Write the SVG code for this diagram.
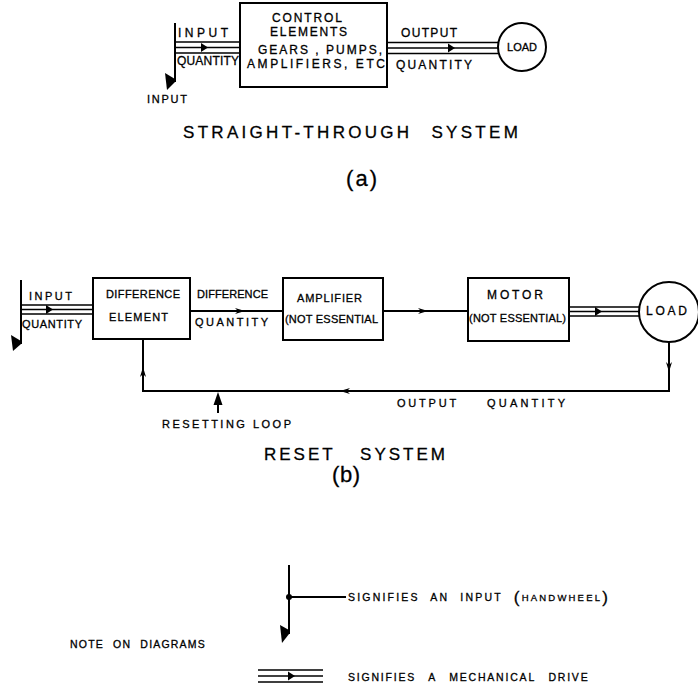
<svg xmlns="http://www.w3.org/2000/svg" width="698" height="691" viewBox="0 0 698 691">
<defs>
<style>
.ln{fill:none;stroke:#000;stroke-width:2}
.dl{fill:none;stroke:#000;stroke-width:1.6}
.box{fill:#fff;stroke:#000;stroke-width:2}
.blk{fill:#000;stroke:none}
text{font-family:"Liberation Sans",Arial,sans-serif;fill:#000;stroke:#000;stroke-width:0.3px}
.s11{font-size:11px}
.s12{font-size:12px}
.title{font-size:17px;letter-spacing:3.3px;word-spacing:11px}
.sub{font-size:22px}
.lg{font-size:10.5px}
</style>
<marker id="ah" markerUnits="userSpaceOnUse" viewBox="0 0 11 7" markerWidth="11" markerHeight="7" refX="10" refY="3.5" orient="auto"><path d="M0,0.5 L10,3.5 L0,6.5 L3,3.5z" fill="#000"/></marker>
<marker id="dr" markerUnits="userSpaceOnUse" viewBox="0 0 8 10" markerWidth="8" markerHeight="10" refX="7" refY="5" orient="auto"><path d="M0,0.5 L7,5 L0,9.5z" fill="#000"/></marker>
</defs>
<rect width="698" height="691" fill="#fff"/>

<g id="connectors">
  <!-- (a) input handwheel and drive -->
  <path class="ln" d="M175,23 V82"/>
  <polygon class="blk" points="165,73 175,79 175,82 167,90"/>
  <path class="dl" d="M175,42 H240 M175,53 H240"/>
  <path class="dl" d="M175,47.5 L208,47.5 L240,47.5" marker-mid="url(#dr)"/>
  <!-- (a) output drive -->
  <path class="dl" d="M387,42.5 H499 M387,53.5 H499"/>
  <path class="dl" d="M387,48 L455,48 L498,48" marker-mid="url(#dr)"/>
  <!-- (b) input handwheel and drive -->
  <path class="ln" d="M21,280 V344"/>
  <polygon class="blk" points="11,335 21,341 21,344 13,351"/>
  <path class="dl" d="M21,305 H93 M21,314 H93"/>
  <path class="dl" d="M21,309.5 L53,309.5 L93,309.5" marker-mid="url(#dr)"/>
  <!-- difference -> amplifier -->
  <path class="ln" d="M190,311 L245,311 L283,311" marker-mid="url(#ah)"/>
  <!-- amplifier -> motor -->
  <path class="ln" d="M383,311 L428,311 L468,311" marker-mid="url(#ah)"/>
  <!-- motor -> load drive -->
  <path class="dl" d="M569,307 H641 M569,316 H641"/>
  <path class="dl" d="M569,311.5 L602,311.5 L640,311.5" marker-mid="url(#dr)"/>
  <!-- resetting loop -->
  <path class="ln" d="M669,342 V372" marker-end="url(#ah)"/>
  <path class="ln" d="M669,372 V391 H340" marker-end="url(#ah)"/>
  <path class="ln" d="M340,391 H143 V367" marker-end="url(#ah)"/>
  <path class="ln" d="M143,367 V340"/>
  <!-- resetting loop pointer -->
  <path class="ln" d="M218,413 V402"/>
  <polygon class="blk" points="218,392 222.5,405 213.5,405"/>
  <!-- legend symbols -->
  <path class="ln" d="M289,565 V634"/>
  <polygon class="blk" points="280,625 289,630 289,634 282,643"/>
  <circle class="blk" cx="289" cy="597" r="3"/>
  <path class="ln" d="M289,597 H346"/>
  <path class="dl" d="M258,670 H323 M258,682 H323"/>
  <path class="dl" d="M258,676 L295,676 L323,676" marker-mid="url(#dr)"/>
</g>

<g id="labels">
  <text class="s12" x="178" y="37" textLength="50" lengthAdjust="spacing">INPUT</text>
  <text class="s12" x="177" y="65" textLength="62" lengthAdjust="spacing">QUANTITY</text>
  <text class="s11" x="147" y="103" textLength="40" lengthAdjust="spacing">INPUT</text>
  <text class="s12" x="401" y="37" textLength="56" lengthAdjust="spacing">OUTPUT</text>
  <text class="s12" x="396" y="69" textLength="76" lengthAdjust="spacing">QUANTITY</text>
  <text class="title" x="183" y="138">STRAIGHT-THROUGH SYSTEM</text>
  <text class="sub" x="346" y="186" textLength="31" lengthAdjust="spacing">(a)</text>

  <text class="s11" x="29" y="300" textLength="43" lengthAdjust="spacing">INPUT</text>
  <text class="s11" x="22" y="328" textLength="60" lengthAdjust="spacing">QUANTITY</text>
  <text class="s11" x="197" y="298" textLength="71" lengthAdjust="spacing">DIFFERENCE</text>
  <text class="s11" x="195" y="326" textLength="73" lengthAdjust="spacing">QUANTITY</text>
  <text class="s11" y="407"><tspan x="397" textLength="59" lengthAdjust="spacing">OUTPUT</tspan> <tspan x="487" textLength="78" lengthAdjust="spacing">QUANTITY</tspan></text>
  <text class="s11" x="162" y="428" textLength="129" lengthAdjust="spacing">RESETTING LOOP</text>
  <text class="title" x="264" y="460" style="word-spacing:17px;letter-spacing:3px">RESET SYSTEM</text>
  <text class="sub" x="332" y="482" textLength="28" lengthAdjust="spacing">(b)</text>

  <text class="lg" x="348" y="601" style="letter-spacing:2.2px;word-spacing:6px">SIGNIFIES AN INPUT <tspan font-size="17" dy="2">(</tspan><tspan font-size="9.5" dy="-2">HANDWHEEL</tspan><tspan font-size="17" dy="2">)</tspan></text>
  <text class="lg" x="70" y="648" style="letter-spacing:1.2px;word-spacing:5px">NOTE ON DIAGRAMS</text>
  <text class="lg" x="348" y="681" style="letter-spacing:1.8px;word-spacing:8px">SIGNIFIES A MECHANICAL DRIVE</text>
</g>

<g id="node-control">
  <rect class="box" x="240" y="3" width="147" height="84"/>
  <text class="s12" x="272" y="22" textLength="70" lengthAdjust="spacing">CONTROL</text>
  <text class="s12" x="270" y="36" textLength="77" lengthAdjust="spacing">ELEMENTS</text>
  <text class="s12" x="258" y="53.5" textLength="124" lengthAdjust="spacing">GEARS , PUMPS,</text>
  <text class="s12" x="247" y="68" textLength="138" lengthAdjust="spacing">AMPLIFIERS, ETC</text>
</g>
<g id="node-load-a">
  <circle class="box" cx="522" cy="47" r="24"/>
  <text class="s11" x="507" y="51" textLength="30" lengthAdjust="spacing">LOAD</text>
</g>
<g id="node-difference">
  <rect class="box" x="93" y="278" width="97" height="61"/>
  <text class="s11" x="106" y="298" textLength="74" lengthAdjust="spacing">DIFFERENCE</text>
  <text class="s11" x="109" y="321" textLength="59" lengthAdjust="spacing">ELEMENT</text>
</g>
<g id="node-amplifier">
  <rect class="box" x="283" y="278" width="100" height="62"/>
  <text class="s11" x="297" y="302" textLength="65" lengthAdjust="spacing">AMPLIFIER</text>
  <text class="s11" x="285" y="323" textLength="93" lengthAdjust="spacing">(NOT ESSENTIAL</text>
</g>
<g id="node-motor">
  <rect class="box" x="468" y="278" width="101" height="63"/>
  <text class="s12" x="487" y="299" textLength="56" lengthAdjust="spacing">MOTOR</text>
  <text class="s11" x="469" y="322" textLength="97" lengthAdjust="spacing">(NOT ESSENTIAL)</text>
</g>
<g id="node-load-b">
  <circle class="box" cx="669" cy="312" r="30"/>
  <text class="s12" x="646" y="315" textLength="41" lengthAdjust="spacing">LOAD</text>
</g>
</svg>
